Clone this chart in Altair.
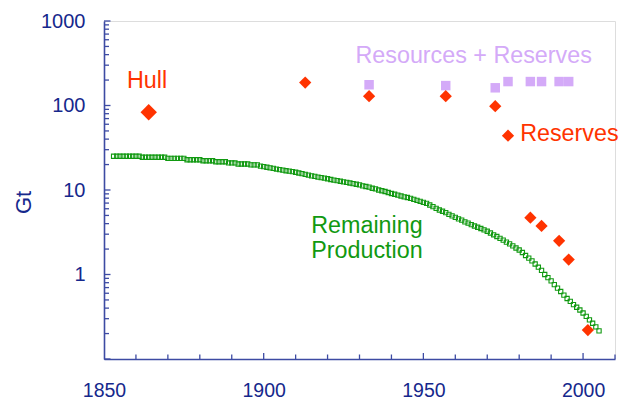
import altair as alt
import pandas as pd

# ---------------- data ----------------
prod_years = list(range(1853, 2006))
prod_gt = [
    25.1, 25.1, 25.1, 25.1, 25.1, 25.1, 25.1,                      # 1853-1859
    25.1, 25.1, 24.4, 24.4, 24.4, 24.4, 24.4, 24.4, 24.4, 24.4,    # 1860s
    23.7, 23.7, 23.7, 23.7, 23.7, 23.7, 22.8, 22.8, 22.8, 22.8,    # 1870s
    22.8, 22.2, 22.2, 22.2, 22.2, 21.6, 21.6, 21.6, 21.6, 20.9,    # 1880s
    20.9, 20.9, 20.3, 20.3, 20.3, 20.3, 19.8, 19.8, 19.8, 19.2,    # 1890s
    18.9, 18.6, 18.3, 18.0, 17.7, 17.4, 17.2, 16.9, 16.7, 16.5,    # 1900s
    16.2, 15.9, 15.6, 15.3, 15.0, 14.7, 14.5, 14.2, 14.0, 13.8,    # 1910s
    13.6, 13.3, 13.1, 12.9, 12.7, 12.5, 12.3, 12.1, 11.9, 11.7,    # 1920s
    11.5, 11.2, 11.0, 10.8, 10.5, 10.3, 10.0, 9.8, 9.6, 9.35,      # 1930s
    9.1, 8.9, 8.7, 8.5, 8.3, 8.15, 7.95, 7.75, 7.55, 7.35,         # 1940s
    7.15, 6.95, 6.65, 6.35, 6.05, 5.8, 5.6, 5.4, 5.15, 4.95,       # 1950s
    4.75, 4.55, 4.4, 4.2, 4.05, 3.9, 3.75, 3.62, 3.5, 3.38,        # 1960s
    3.25, 3.1, 2.95, 2.82, 2.68, 2.55, 2.42, 2.3, 2.18, 2.06,      # 1970s
    1.95, 1.82, 1.68, 1.56, 1.45, 1.33, 1.22, 1.12, 1.0, 0.92,     # 1980s
    0.84, 0.76, 0.69, 0.63, 0.57, 0.52, 0.48, 0.44, 0.41, 0.38,    # 1990s
    0.35, 0.32, 0.29, 0.265, 0.24, 0.215,                          # 2000-2005
]

reserve_years = [1913, 1933, 1957, 1972.5, 1976.5, 1983.5, 1987, 1992.5, 1995.5, 2001.5]
reserve_gt = [187, 129, 129, 98, 44, 4.7, 3.75, 2.5, 1.5, 0.22]

hull_year = [1864]
hull_gt = [83]

resres_years = [1933, 1957, 1972.5, 1976.5, 1983.5, 1987, 1992.5, 1995.5]
resres_gt = [176, 172, 162, 192, 192, 192, 192, 192]

x_label_values = [1850, 1900, 1950, 2000]
y_label_values = [1, 10, 100, 1000]
x_major_ticks = [1900, 1950, 2000]
x_minor_ticks = [1860, 1870, 1880, 1890, 1910, 1920, 1930, 1940, 1960, 1970, 1980, 1990, 2010]
y_major_ticks = [0.1, 1, 10, 100, 1000]
y_minor_ticks = [m * d for d in [0.1, 1, 10, 100] for m in range(2, 10)]

label_text = ["Hull", "Resources + Reserves", "Reserves", "Remaining", "Production"]
label_year = [1857.2, 1928.75, 1980.3, 1914.9, 1914.9]
label_gt = [163, 316, 37.5, 3.07, 1.556]
label_kind = ["red", "lav", "red", "green", "green"]

# ---------------- style ----------------
W, H = 511, 338
FONT = "Liberation Sans"
RED = "#ff3300"
LAV = "#d4aaf8"
GREEN = "#119911"
AXIS = "#3d4ba3"
LABEL = "#16288c"

x_scale = alt.Scale(domain=[1850, 2010], nice=False, zero=False)
y_scale = alt.Scale(type="log", domain=[0.1, 1000], nice=False)

x_axis = alt.Axis(values=x_label_values, format="d", grid=False, ticks=False,
                  domainColor=AXIS, domainWidth=1.6, labelColor=LABEL, labelFont=FONT,
                  labelFontSize=19.5, labelPadding=37, labelBaseline="alphabetic",
                  labelFlush=False, labelOverlap=False, title=None)
y_axis = alt.Axis(values=y_label_values, format="d", grid=False, ticks=False,
                  domainColor=AXIS, domainWidth=1.6, labelColor=LABEL, labelFont=FONT,
                  labelFontSize=20, labelPadding=19, labelOverlap=False,
                  title="Gt", titleFont=FONT, titleFontSize=22, titleFontWeight="normal",
                  titleColor=LABEL, titleX=-81, titleY=181, titleAngle=270,
                  titleAlign="center", titleBaseline="middle")

prod_df = pd.DataFrame({"year": prod_years, "gt": prod_gt})
res_df = pd.DataFrame({"year": reserve_years, "gt": reserve_gt})
hull_df = pd.DataFrame({"year": hull_year, "gt": hull_gt})
rr_df = pd.DataFrame({"year": resres_years, "gt": resres_gt})
lab_df = pd.DataFrame({"text": label_text, "year": label_year, "gt": label_gt, "kind": label_kind})

X = alt.X("year:Q", scale=x_scale, axis=x_axis)
Y = alt.Y("gt:Q", scale=y_scale, axis=y_axis)

prod = alt.Chart(prod_df).mark_point(shape="square", filled=False, size=18, stroke=GREEN,
                                     strokeWidth=1.1, opacity=1).encode(x=X, y=Y)
rr = alt.Chart(rr_df).mark_point(shape="square", filled=True, size=90, color=LAV,
                                 opacity=1).encode(x=X, y=Y)
res = alt.Chart(res_df).mark_point(shape="diamond", filled=True, size=150, color=RED,
                                   opacity=1).encode(x=X, y=Y)
hull = alt.Chart(hull_df).mark_point(shape="diamond", filled=True, size=270, color=RED,
                                     opacity=1).encode(x=X, y=Y)

texts = alt.Chart(lab_df).mark_text(align="left", baseline="alphabetic", font=FONT,
                                    fontSize=23.3).encode(
    x=alt.X("year:Q", scale=x_scale),
    y=alt.Y("gt:Q", scale=y_scale),
    text="text:N",
    color=alt.Color("kind:N", scale=alt.Scale(domain=["red", "lav", "green"],
                                               range=[RED, LAV, GREEN]), legend=None),
)

# inward tick marks
xmaj = alt.Chart(pd.DataFrame({"year": x_major_ticks})).mark_rule(color=AXIS, strokeWidth=1.3).encode(
    x=alt.X("year:Q", scale=x_scale), y=alt.value(H - 6), y2=alt.value(H))
xmin = alt.Chart(pd.DataFrame({"year": x_minor_ticks})).mark_rule(color=AXIS, strokeWidth=1.3).encode(
    x=alt.X("year:Q", scale=x_scale), y=alt.value(H - 4.5), y2=alt.value(H))
ymaj = alt.Chart(pd.DataFrame({"gt": y_major_ticks})).mark_rule(color=AXIS, strokeWidth=1.3).encode(
    y=alt.Y("gt:Q", scale=y_scale), x=alt.value(0), x2=alt.value(6.5))
ymin = alt.Chart(pd.DataFrame({"gt": y_minor_ticks})).mark_rule(color=AXIS, strokeWidth=1.3).encode(
    y=alt.Y("gt:Q", scale=y_scale), x=alt.value(0), x2=alt.value(5))

chart = alt.layer(xmaj, xmin, ymaj, ymin, prod, rr, res, hull, texts).properties(
    width=W, height=H,
    autosize=alt.AutoSizeParams(type="none"),
    padding={"left": 96, "top": 13, "right": 5, "bottom": 43},
).configure_view(stroke=None).configure(background="white")

chart.save("out.html", embed_options={"renderer": "svg", "actions": False})
